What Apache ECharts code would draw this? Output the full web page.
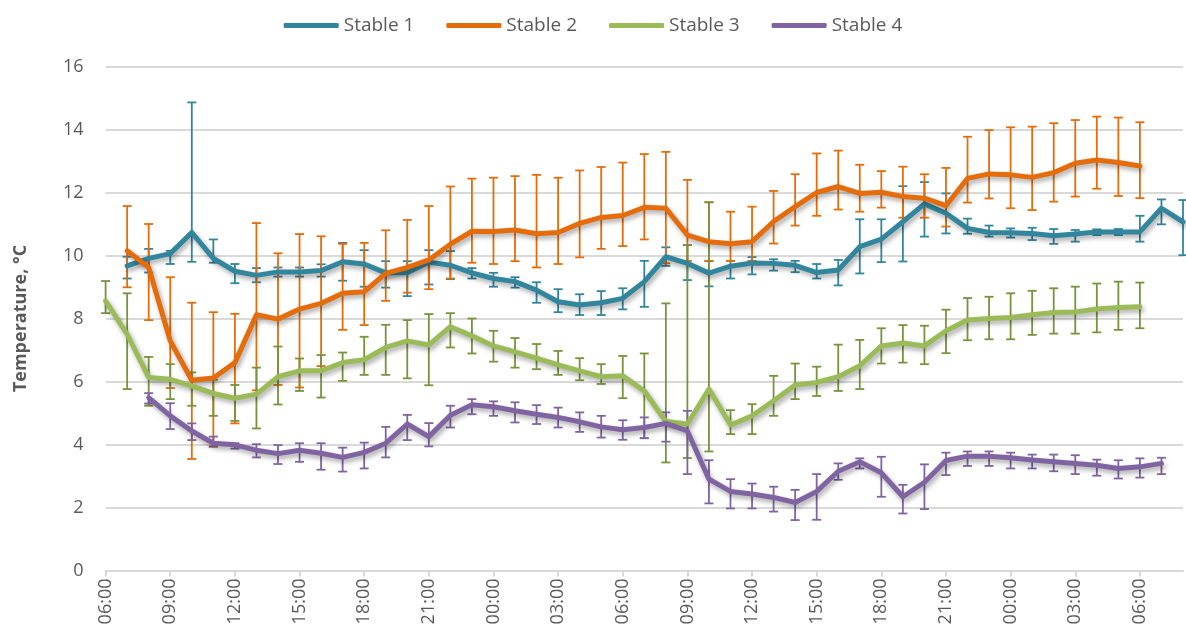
<!DOCTYPE html>
<html>
<head>
<meta charset="utf-8">
<script src="https://cdn.jsdelivr.net/npm/echarts@6/dist/echarts.min.js"></script>
<style>
html,body{margin:0;padding:0;background:#fff;}
#chart{width:1186px;height:643px;}
</style>
</head>
<body>
<div id="chart"></div>
<script>
// Categories (hourly, 06:00 day 1 to 08:00 day 3)
const categories = ["06:00","07:00","08:00","09:00","10:00","11:00","12:00","13:00","14:00","15:00","16:00","17:00","18:00","19:00","20:00","21:00","22:00","23:00",
"00:00","01:00","02:00","03:00","04:00","05:00","06:00","07:00","08:00","09:00","10:00","11:00","12:00","13:00","14:00","15:00","16:00","17:00","18:00","19:00","20:00","21:00","22:00","23:00",
"00:00","01:00","02:00","03:00","04:00","05:00","06:00","07:00","08:00"];

const seriesNames = ["Stable 1","Stable 2","Stable 3","Stable 4"];

// Stable 1
const s1   = [null,9.67,9.91,10.06,10.73,9.91,9.50,9.37,9.48,9.48,9.52,9.80,9.73,9.45,9.45,9.79,9.69,9.45,9.27,9.17,8.90,8.53,8.43,8.50,8.64,9.17,9.96,9.75,9.44,9.66,9.76,9.75,9.69,9.46,9.54,10.28,10.52,11.07,11.64,11.34,10.86,10.73,10.72,10.70,10.63,10.68,10.75,10.75,10.75,11.50,11.07];
const s1Hi = [null,9.96,10.21,10.15,14.86,10.51,9.73,9.60,9.62,9.62,9.72,10.40,10.17,9.82,9.82,10.17,10.14,9.60,9.45,9.31,9.15,8.93,8.77,8.87,8.96,9.83,10.26,10.33,9.82,9.83,9.95,9.88,9.83,9.73,9.86,11.15,11.15,12.20,12.33,11.97,11.17,10.95,10.86,10.88,10.84,10.81,10.83,10.84,11.26,11.78,11.76];
const s1Lo = [null,9.27,9.46,9.73,9.80,9.77,9.12,9.15,9.33,9.33,9.33,9.20,9.01,8.98,8.71,9.08,9.25,9.27,9.01,8.98,8.50,8.20,8.11,8.11,8.29,8.37,9.67,9.22,9.02,9.27,9.40,9.52,9.47,9.27,9.05,9.43,9.79,9.81,10.60,10.70,10.69,10.60,10.57,10.49,10.37,10.44,10.65,10.65,10.44,10.99,10.01];

// Stable 2
const s2   = [null,10.15,9.62,7.29,6.04,6.11,6.60,8.12,7.98,8.30,8.48,8.80,8.85,9.43,9.62,9.86,10.36,10.77,10.76,10.81,10.69,10.73,11.02,11.21,11.27,11.53,11.50,10.65,10.44,10.37,10.44,11.08,11.55,12.00,12.19,11.97,12.01,11.87,11.82,11.58,12.45,12.59,12.56,12.48,12.63,12.93,13.03,12.95,12.84,null,null];
const s2Hi = [null,11.57,11.00,9.31,8.50,8.20,8.15,11.03,10.07,10.68,10.61,10.37,10.40,10.80,11.13,11.57,12.19,12.44,12.47,12.52,12.56,12.47,12.70,12.81,12.95,13.22,13.29,12.40,11.69,11.39,11.55,12.05,12.58,13.24,13.33,12.88,12.68,12.82,12.58,12.78,13.77,13.98,14.07,14.09,14.20,14.30,14.41,14.38,14.23,null,null];
const s2Lo = [null,8.99,7.95,5.79,3.54,3.93,4.67,5.72,5.89,5.81,6.49,7.64,7.79,8.56,8.82,8.93,9.27,9.77,9.73,9.82,9.62,9.73,9.94,10.21,10.30,10.51,9.75,9.83,9.83,9.83,9.83,10.38,10.95,11.26,11.46,11.39,11.52,11.20,11.20,10.92,11.68,11.81,11.50,11.44,11.71,11.87,12.12,11.89,11.82,null,null];

// Stable 3
const s3   = [8.56,7.50,6.13,6.07,5.86,5.62,5.47,5.60,6.15,6.34,6.34,6.60,6.69,7.08,7.29,7.16,7.74,7.45,7.13,6.94,6.74,6.53,6.34,6.15,6.18,5.70,4.73,4.65,5.76,4.62,4.91,5.39,5.89,5.97,6.15,6.50,7.13,7.22,7.13,7.61,7.95,8.00,8.03,8.12,8.19,8.21,8.30,8.35,8.37,null,null];
const s3Hi = [9.19,8.80,6.78,6.55,6.29,6.06,5.89,6.44,7.11,6.73,6.84,6.92,7.42,7.80,7.95,8.14,8.17,8.00,7.61,7.38,7.19,6.97,6.74,6.55,6.81,6.89,8.48,10.33,11.69,5.09,5.28,6.18,6.57,6.47,7.17,7.32,7.69,7.79,7.77,8.28,8.65,8.69,8.80,8.88,8.96,9.01,9.11,9.17,9.14,null,null];
const s3Lo = [8.17,5.76,5.23,5.44,5.23,4.91,4.75,4.51,5.27,5.70,5.49,6.02,6.21,6.21,6.10,5.88,7.08,6.89,6.63,6.44,6.39,6.21,6.04,5.92,5.47,4.20,3.43,3.57,3.78,4.33,4.33,4.91,5.44,5.54,5.70,5.76,6.57,6.60,6.55,6.90,7.31,7.34,7.34,7.48,7.52,7.52,7.56,7.64,7.69,null,null];

// Stable 4
const s4   = [null,null,5.49,4.91,4.43,4.04,3.99,3.82,3.71,3.82,3.72,3.59,3.75,4.04,4.65,4.25,4.93,5.26,5.20,5.07,4.96,4.86,4.72,4.56,4.47,4.54,4.67,4.43,2.90,2.51,2.43,2.32,2.16,2.51,3.15,3.45,3.10,2.34,2.80,3.49,3.63,3.63,3.58,3.51,3.45,3.40,3.34,3.24,3.29,3.40,null];
const s4Hi = [null,null,5.63,5.31,4.67,4.25,4.04,4.01,3.98,4.04,4.04,3.90,4.06,4.56,4.94,4.68,5.23,5.44,5.37,5.34,5.25,5.17,5.02,4.91,4.77,4.86,5.02,5.07,3.50,2.90,2.76,2.66,2.56,3.06,3.40,3.56,3.61,2.72,3.37,3.74,3.78,3.78,3.74,3.68,3.68,3.66,3.52,3.50,3.56,3.58,null];
const s4Lo = [null,null,5.30,4.49,4.14,3.94,3.87,3.59,3.38,3.45,3.20,3.14,3.24,3.59,4.14,3.94,4.54,4.96,4.91,4.70,4.65,4.54,4.40,4.22,4.15,4.20,4.09,3.06,2.13,1.97,1.97,1.87,1.60,1.61,2.88,3.24,2.34,1.81,1.95,3.03,3.32,3.32,3.24,3.24,3.15,3.06,3.01,2.92,2.95,3.06,null];

const yTicks = [0,2,4,6,8,10,12,14,16];

const lineColors = ["#31859C","#E46C0A","#9BBB59","#8064A2"];
const errColors  = ["#31859C","#E46C0A","#77933C","#8064A2"];

const vals = [s1,s2,s3,s4];
const his  = [s1Hi,s2Hi,s3Hi,s4Hi];
const los  = [s1Lo,s2Lo,s3Lo,s4Lo];

const FONT = "'Open Sans', 'Noto Sans', sans-serif";
const TXT = "#595959";

function errData(hi, lo){
  const out = [];
  for (let i = 0; i < hi.length; i++) {
    if (hi[i] != null && lo[i] != null) out.push([i, lo[i], hi[i]]);
  }
  return out;
}

function makeRender(color){
  return function(params, api){
    const x = api.value(0);
    const pLo = api.coord([x, api.value(1)]);
    const pHi = api.coord([x, api.value(2)]);
    const w = 4.5;
    const style = {stroke: color, lineWidth: 1.8, fill: null};
    return {
      type: 'group',
      children: [
        {type:'line', shape:{x1:pHi[0], y1:pHi[1], x2:pLo[0], y2:pLo[1]}, style: style},
        {type:'line', shape:{x1:pHi[0]-w, y1:pHi[1], x2:pHi[0]+w, y2:pHi[1]}, style: style},
        {type:'line', shape:{x1:pLo[0]-w, y1:pLo[1], x2:pLo[0]+w, y2:pLo[1]}, style: style}
      ]
    };
  };
}

const series = [];
for (let k = 0; k < 4; k++) {
  series.push({
    type: 'custom',
    name: seriesNames[k] + ' err',
    renderItem: makeRender(errColors[k]),
    encode: {x: 0, y: [1, 2]},
    data: errData(his[k], los[k]),
    silent: true,
    z: 2
  });
  series.push({
    type: 'line',
    name: seriesNames[k],
    data: vals[k],
    showSymbol: false,
    symbol: 'none',
    connectNulls: false,
    itemStyle: {color: lineColors[k]},
    lineStyle: {
      color: lineColors[k], width: 5, cap: 'round', join: 'round',
      shadowColor: 'rgba(0,0,0,0.35)', shadowBlur: 5, shadowOffsetX: 2, shadowOffsetY: 3
    },
    z: 2
  });
}

const chart = echarts.init(document.getElementById('chart'), null, {renderer: 'canvas'});
chart.setOption({
  animation: false,
  backgroundColor: '#ffffff',
  textStyle: {fontFamily: FONT},
  legend: {
    data: seriesNames,
    top: 11,
    left: 'center',
    icon: 'roundRect',
    itemWidth: 55,
    itemHeight: 5,
    itemGap: 32,
    textStyle: {color: TXT, fontSize: 19, fontFamily: FONT}
  },
  grid: {left: 105.6, right: 3, top: 66.5, bottom: 72.5, containLabel: false},
  xAxis: {
    type: 'category',
    data: categories,
    boundaryGap: false,
    axisLine: {lineStyle: {color: '#D9D9D9', width: 2}},
    axisTick: {show: true, interval: 2, length: 6, lineStyle: {color: '#D9D9D9', width: 2}},
    axisLabel: {interval: 2, rotate: 90, color: TXT, fontSize: 18, margin: 8, fontFamily: FONT},
    splitLine: {show: false}
  },
  yAxis: {
    type: 'value',
    min: yTicks[0],
    max: yTicks[yTicks.length - 1],
    interval: 2,
    name: 'Temperature, °C',
    nameLocation: 'middle',
    nameGap: 76,
    nameTextStyle: {color: TXT, fontSize: 18, fontWeight: 'bold', fontFamily: FONT},
    axisLine: {show: false},
    axisTick: {show: false},
    axisLabel: {color: TXT, fontSize: 18, margin: 22, fontFamily: FONT},
    splitLine: {lineStyle: {color: '#D9D9D9', width: 2}}
  },
  series: series
});
</script>
</body>
</html>
